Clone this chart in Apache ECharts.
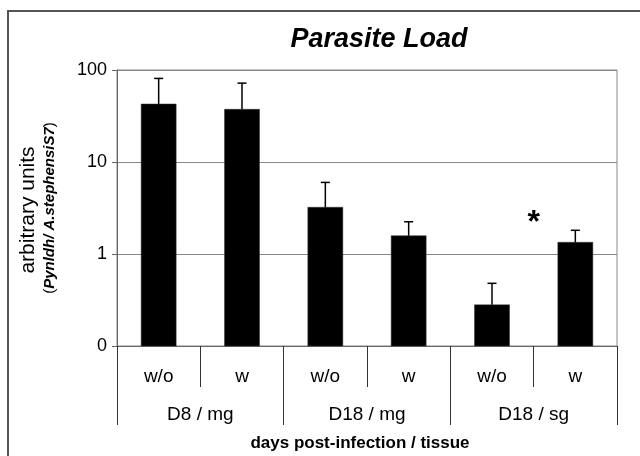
<!DOCTYPE html>
<html><head><meta charset="utf-8">
<script src="https://cdn.jsdelivr.net/npm/echarts@6/dist/echarts.min.js"></script>
<style>html,body{margin:0;padding:0;background:#fff}#c{width:640px;height:456px}</style>
</head><body><div id="c"></div>
<script>
var categories = ['w/o','w','w/o','w','w/o','w'];
var groups = ['D8 / mg','D18 / mg','D18 / sg'];
var means = [42.7, 37.4, 3.22, 1.58, 0.28, 1.34];
var errTops = [81, 72, 6.0, 2.24, 0.48, 1.81];
var yTicks = ['0', '1', '10', '100'];
var starValue = 2.65;
var starBetween = [4, 5];
var yMin = 0.1, yMax = 100;

var F = 'Liberation Sans, Arial, sans-serif';
var chart = echarts.init(document.getElementById('c'));
chart.setOption({
  animation: false,
  title: {text: 'Parasite Load', left: 374, top: 21, textAlign: 'center',
    textStyle: {fontFamily: F, fontSize: 27, fontWeight: 'bold', fontStyle: 'italic', color: '#000'}},
  grid: {left: 117, right: 23, top: 70, bottom: 110, show: true, borderColor: '#888', borderWidth: 1},
  xAxis: [{
    type: 'category', data: categories, position: 'bottom',
    axisLine: {lineStyle: {color: '#666', width: 1}},
    axisTick: {show: true, length: 41, interval: 0, lineStyle: {color: '#333'}},
    axisLabel: {margin: 21, fontFamily: F, fontSize: 19, color: '#000', interval: 0}
  }, {
    type: 'category', data: groups, position: 'bottom',
    axisLine: {show: false},
    axisTick: {show: true, length: 79, interval: 0, lineStyle: {color: '#333'}},
    axisLabel: {margin: 59, fontFamily: F, fontSize: 19, color: '#000', interval: 0}
  }],
  yAxis: {
    type: 'log', logBase: 10, min: yMin, max: yMax,
    axisLine: {show: true, lineStyle: {color: '#666'}},
    axisTick: {show: true, length: 5, lineStyle: {color: '#666'}},
    splitLine: {show: true, lineStyle: {color: '#888'}},
    axisLabel: {margin: 10, fontFamily: F, fontSize: 18, color: '#000',
      formatter: function (v) { return yTicks[Math.round(Math.log10(v) - Math.log10(yMin))]; }}
  },
  series: [{
    type: 'custom', xAxisIndex: 0,
    data: means.map(function (m, i) { return [i, m]; }),
    renderItem: function (params, api) {
      var t = api.coord([api.value(0), api.value(1)]);
      var b = api.coord([api.value(0), yMin]);
      var w = 35;
      return {type: 'rect', shape: {x: t[0] - w / 2, y: t[1], width: w, height: b[1] - t[1]},
        style: {fill: '#000', stroke: '#333', lineWidth: 0.5}};
    }, z: 2
  }, {
    type: 'custom', xAxisIndex: 0,
    data: means.map(function (m, i) { return [i, m, errTops[i]]; }),
    renderItem: function (params, api) {
      var b = api.coord([api.value(0), api.value(1)]);
      var t = api.coord([api.value(0), api.value(2)]);
      var st = {stroke: '#000', lineWidth: 1.5};
      return {type: 'group', children: [
        {type: 'line', shape: {x1: b[0], y1: b[1], x2: t[0], y2: t[1]}, style: st},
        {type: 'line', shape: {x1: t[0] - 4.5, y1: t[1], x2: t[0] + 4.5, y2: t[1]}, style: st}
      ]};
    }, z: 3
  }]
});
var p1 = chart.convertToPixel({xAxisIndex: 0, yAxisIndex: 0}, [starBetween[0], starValue]);
var p2 = chart.convertToPixel({xAxisIndex: 0, yAxisIndex: 0}, [starBetween[1], starValue]);
chart.setOption({graphic: [
  {type: 'rect', shape: {x: 8, y: 11, width: 700, height: 600}, style: {fill: 'none', stroke: '#555', lineWidth: 2}, silent: true},
  {type: 'text', x: (p1[0] + p2[0]) / 2, y: p1[1] + 8, style: {text: '*', font: 'bold 32px ' + F, fill: '#000', textAlign: 'center', textVerticalAlign: 'middle'}},
  {type: 'text', x: 360, y: 443, style: {text: 'days post-infection / tissue', font: 'bold 17px ' + F, fill: '#000', textAlign: 'center', textVerticalAlign: 'middle'}},
  {type: 'text', x: 28, y: 210, rotation: Math.PI / 2, style: {text: 'arbitrary units', font: '21px ' + F, fill: '#000', textAlign: 'center', textVerticalAlign: 'middle'}},
  {type: 'text', x: 50, y: 208, rotation: Math.PI / 2, style: {
    text: '{n|(}{b|Pynldh/ A.stephensiS7}{n|)}', textAlign: 'center', textVerticalAlign: 'middle',
    rich: {n: {fontFamily: F, fontSize: 15, fill: '#000'}, b: {fontFamily: F, fontSize: 15, fontWeight: 'bold', fontStyle: 'italic', fill: '#000'}}
  }}
]});
</script></body></html>
